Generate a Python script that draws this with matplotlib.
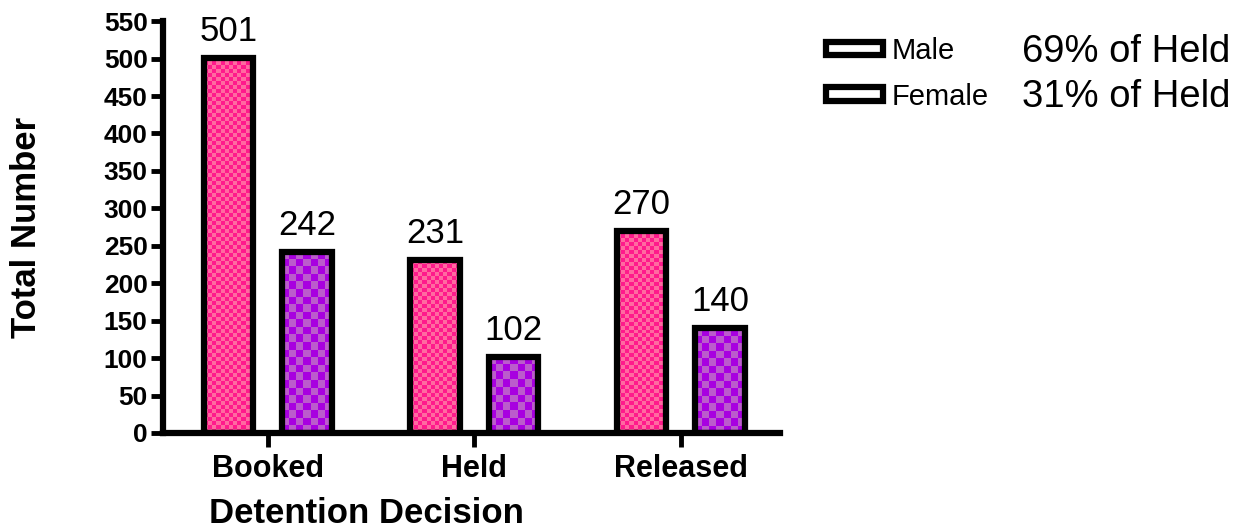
import matplotlib
matplotlib.use("Agg")
import matplotlib.pyplot as plt
import numpy as np
from matplotlib.colors import ListedColormap
from matplotlib.patches import Patch

plt.rcParams['font.family'] = ['Liberation Sans', 'DejaVu Sans']

decisions = ['Booked', 'Held', 'Released']
male = [501, 231, 270]
female = [242, 102, 140]
legend_labels = ['Male', 'Female']
held_share = ['69% of Held', '31% of Held']

male_cols = ['#ff1a8c', '#ff6aa0']      # dark / light checks
female_cols = ['#a800e0', '#bb5ccc']

fig = plt.figure(figsize=(12.49, 5.29), dpi=100)
ax = fig.add_axes([0.1305, 0.1815, 0.494, 0.7785])

x = np.arange(len(decisions))
w = 0.24
off = 0.19
lw = 4.5

ax.set_xlim(-0.508, 2.48)
ax.set_ylim(0, 550)

def checker_bars(xpos, vals, cols, cell):
    fill = ax.bar(xpos, vals, w, color=cols[0], linewidth=0, zorder=1)
    for r in fill:
        x0, wd, h = r.get_x(), r.get_width(), r.get_height()
        p0 = ax.transData.transform((x0, 0))
        p1 = ax.transData.transform((x0 + wd, h))
        nx = max(1, int(round((p1[0] - p0[0]) / cell)))
        ny = max(1, int(round((p1[1] - p0[1]) / cell)))
        board = np.add.outer(np.arange(ny), np.arange(nx)) % 2
        im = ax.imshow(board, cmap=ListedColormap(cols), extent=(x0, x0 + wd, 0, h),
                       origin='lower', aspect='auto', interpolation='nearest', zorder=2)
        im.set_clip_path(r)
    ax.bar(xpos, vals, w, facecolor='none', edgecolor='black', linewidth=lw, zorder=3)
    for xi, v in zip(xpos, vals):
        ax.annotate(str(v), (xi, v), xytext=(0, 7), textcoords='offset points',
                    ha='center', va='bottom', fontsize=25)

checker_bars(x - off, male, male_cols, 4)
checker_bars(x + off, female, female_cols, 7.5)

ax.set_xlim(-0.508, 2.48)
ax.set_ylim(0, 550)
ax.set_yticks(np.arange(0, 551, 50))
ax.set_xticks(x)
ax.set_xticklabels(decisions, fontsize=22, fontweight='bold')
for lab in ax.get_yticklabels():
    lab.set_fontsize(19)
    lab.set_fontweight('bold')
ax.tick_params(axis='both', direction='out', width=3.5, length=9, pad=2)
ax.tick_params(axis='x', length=10, pad=5)

for s in ['top', 'right']:
    ax.spines[s].set_visible(False)
for s in ['left', 'bottom']:
    ax.spines[s].set_linewidth(lw)
    ax.spines[s].set_capstyle('projecting')

ax.set_ylabel('Total Number', fontsize=25, fontweight='bold')
ax.yaxis.set_label_coords(-0.195, 0.5)
ax.set_xlabel('Detention Decision', fontsize=25, fontweight='bold')
ax.xaxis.set_label_coords(0.329, -0.155)

handles = [Patch(facecolor='white', edgecolor='black', linewidth=lw) for _ in legend_labels]
fig.legend(handles, legend_labels, loc='upper left', bbox_to_anchor=(0.6615, 0.93),
           frameon=False, fontsize=21, handlelength=1.93, handleheight=0.34,
           handletextpad=0.3, labelspacing=0.6, borderpad=0, borderaxespad=0)
for i, t in enumerate(held_share):
    fig.text(0.818, 1 - (52 + 45 * i) / 529, t, fontsize=27.5, va='center', ha='left')

fig.savefig('out.png', dpi=100)
